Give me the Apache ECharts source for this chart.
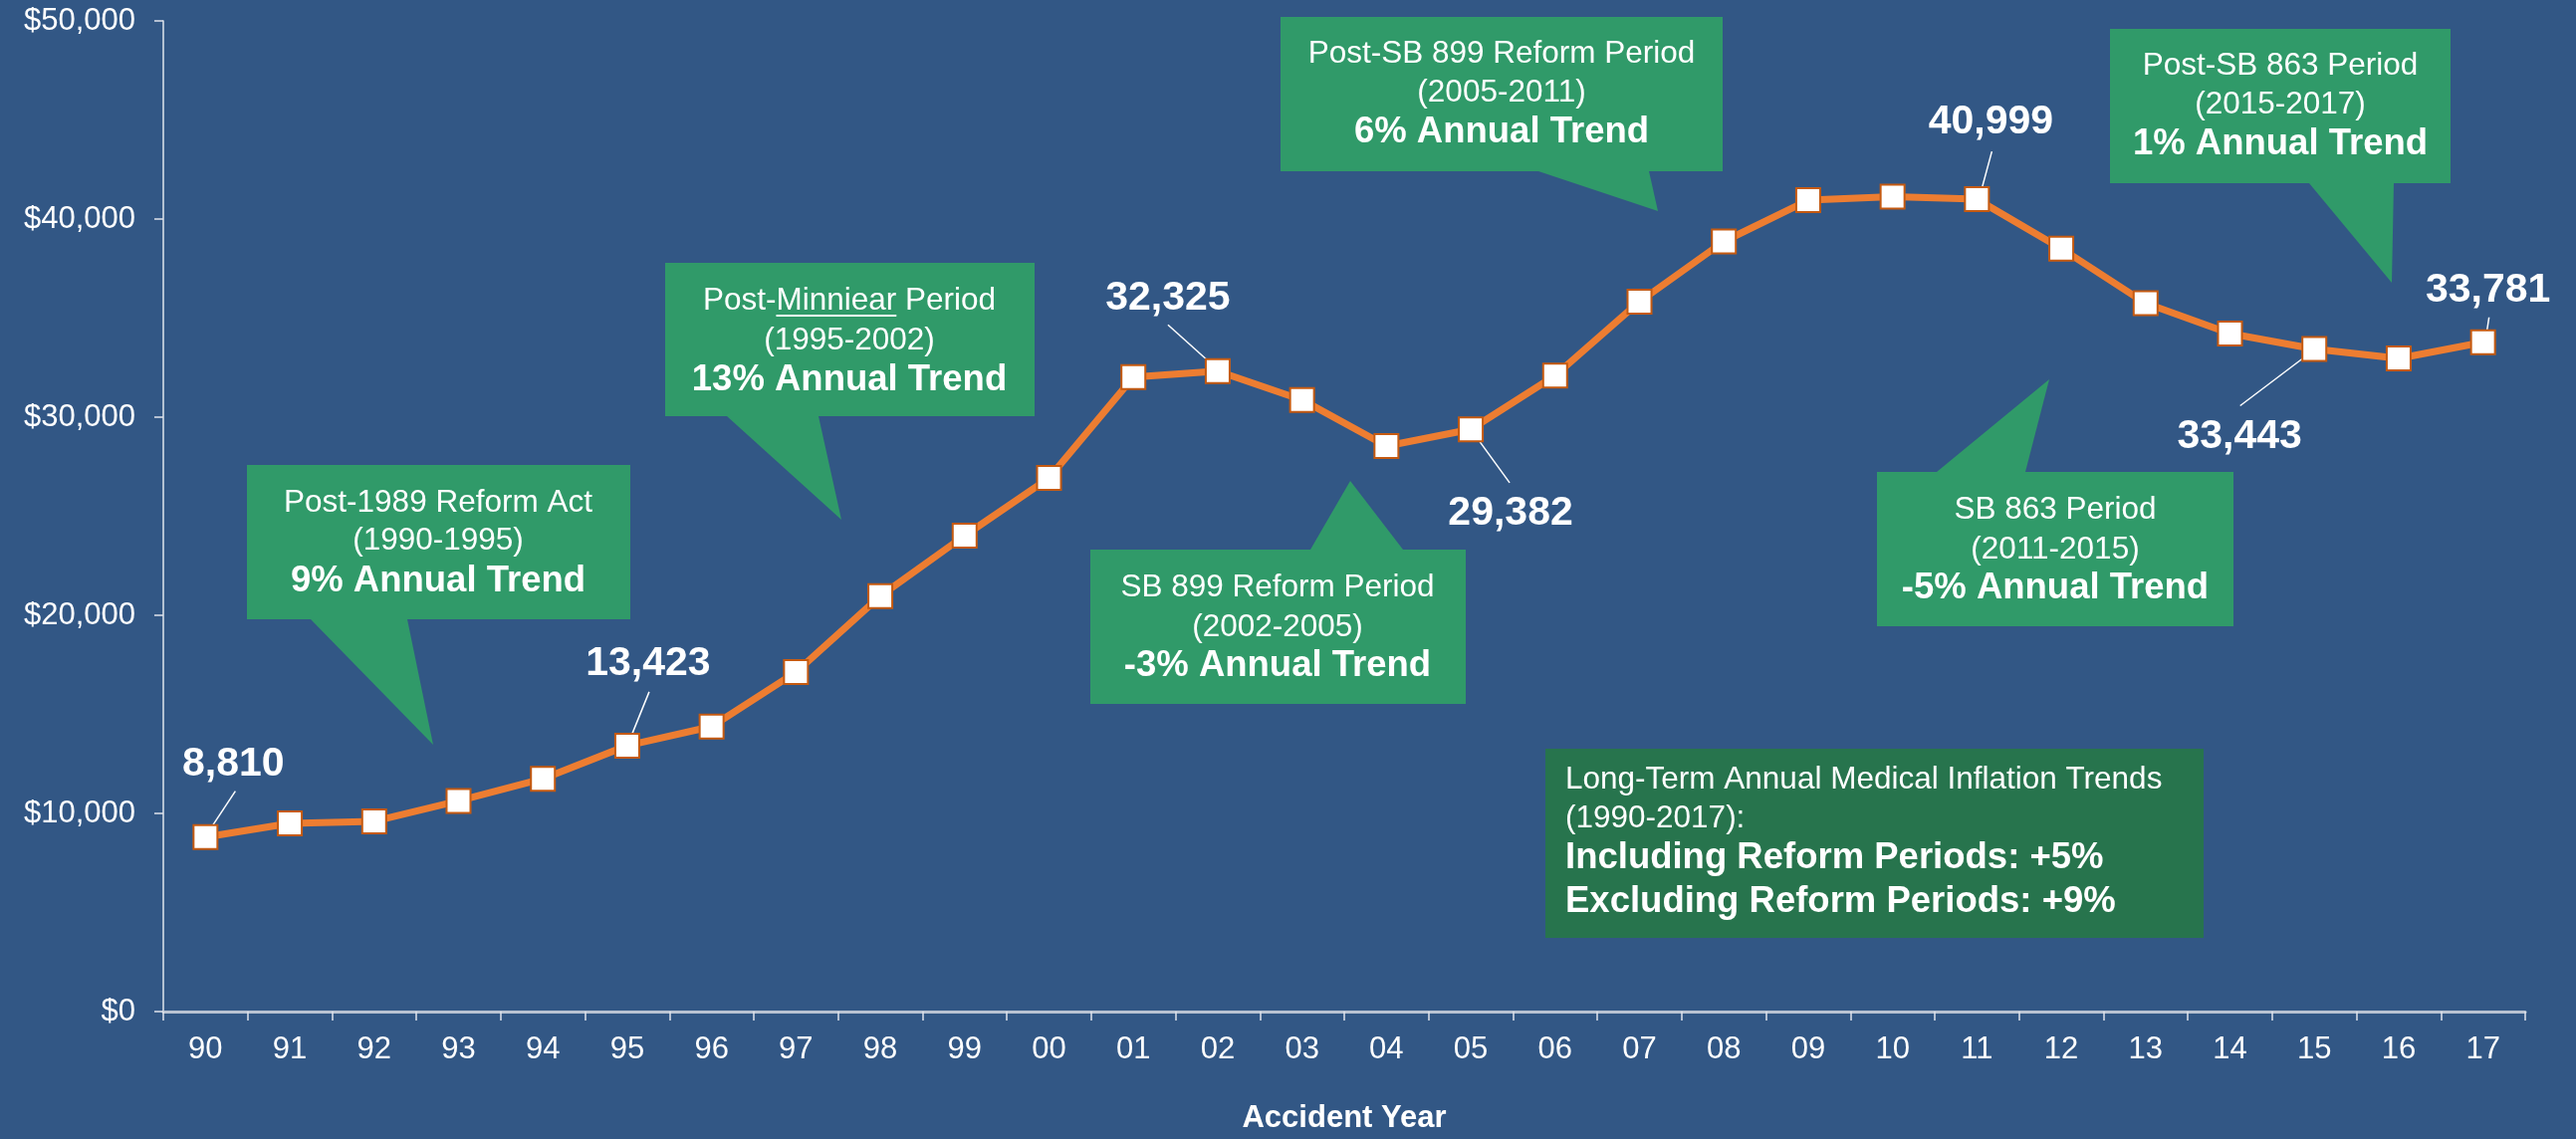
<!DOCTYPE html>
<html>
<head>
<meta charset="utf-8">
<title>Medical cost per claim by accident year</title>
<script src="https://cdn.jsdelivr.net/npm/echarts@6/dist/echarts.min.js"></script>
<style>
  html, body { margin: 0; padding: 0; background: #325785; }
  #main { width: 2587px; height: 1144px; }
</style>
</head>
<body>
<div id="main"></div>
<script>
// accident years on the x axis
var years = ['90', '91', '92', '93', '94', '95', '96', '97', '98', '99',
             '00', '01', '02', '03', '04', '05', '06', '07', '08', '09',
             '10', '11', '12', '13', '14', '15', '16', '17'];

// average medical paid per claim ($)
var severity = [8810, 9500, 9600, 10630, 11750, 13423, 14385, 17130, 20970, 24020,
                26930, 32020, 32325, 30870, 28540, 29382, 32100, 35830, 38870, 40950,
                41130, 40999, 38510, 35750, 34220, 33443, 32965, 33781];

// years that carry a value label
var labeledYears = ['90', '95', '02', '05', '11', '15', '17'];

// y axis range and step
var yMin = 0, yMax = 50000, yStep = 10000;

// callout texts: [plain line, plain line, bold line]
var calloutTexts = [
    ['Post-1989 Reform Act', '(1990-1995)', '9% Annual Trend'],
    ['Post-Minniear Period', '(1995-2002)', '13% Annual Trend'],
    ['SB 899 Reform Period', '(2002-2005)', '-3% Annual Trend'],
    ['Post-SB 899 Reform Period', '(2005-2011)', '6% Annual Trend'],
    ['SB 863 Period', '(2011-2015)', '-5% Annual Trend'],
    ['Post-SB 863 Period', '(2015-2017)', '1% Annual Trend']
];
var summaryPlain = ['Long-Term Annual Medical Inflation Trends', '(1990-2017):'];
var summaryBold = ['Including Reform Periods: +5%', 'Excluding Reform Periods: +9%'];

// ---- layout (pixels) ----
var FONT = "'Liberation Sans', Arial, sans-serif";
var GREEN = '#309a69';
var DARK_GREEN = '#27744d';
var PLAIN = '31.5px ' + FONT;
var BOLD = 'bold 36.5px ' + FONT;

// label centre offset from its point
var labelOffsets = {
    '90': [28, -73], '95': [21, -82], '02': [-50, -73], '05': [40, 84],
    '11': [14, -77], '15': [-75, 88], '17': [5, -52]
};
// leader line [start, end], offsets from the point
var leaderOffsets = {
    '90': [[7.5, -12], [30, -46]],
    '95': [[5, -12], [22, -54]],
    '02': [[-11, -11.5], [-50, -46.5]],
    '05': [[8.5, 11.6], [39, 53.6]],
    '11': [[5, -11], [15, -48]],
    '15': [[-11, 9], [-74.5, 57]],
    '17': [[4, -12], [6, -25]]
};

// callout boxes: rect [x1, y1, x2, y2], tail [base1, tip, base2], text centre x, line ys
var calloutBoxes = [
    { rect: [248, 467, 633, 622], tail: [[312, 622], [435, 748], [409, 622]], cx: 440, ys: [505, 543, 584] },
    { rect: [668, 264, 1039, 418], tail: [[730, 418], [845, 522], [822, 418]], cx: 853, ys: [302, 342, 382] },
    { rect: [1095, 552, 1472, 707], tail: [[1316, 552], [1356, 483], [1409, 552]], cx: 1283, ys: [590, 630, 669] },
    { rect: [1286, 17, 1730, 172], tail: [[1545, 172], [1665, 212], [1656, 172]], cx: 1508, ys: [54, 93, 133] },
    { rect: [1885, 474, 2243, 629], tail: [[1945, 474], [2058, 381], [2034, 474]], cx: 2064, ys: [512, 552, 591] },
    { rect: [2119, 29, 2461, 184], tail: [[2319, 184], [2402, 284], [2404, 184]], cx: 2290, ys: [66, 105, 145] }
];
var summaryBox = { rect: [1552, 752, 2213, 942], x: 1572, ys: [783, 822, 862, 906] };

function fmt(v) {
    return v.toLocaleString('en-US');
}

function measure(text, font) {
    var ctx = document.createElement('canvas').getContext('2d');
    ctx.font = font;
    return ctx.measureText(text).width;
}

// build graphic elements for the callouts
var graphics = [];
calloutBoxes.forEach(function (b, i) {
    graphics.push({
        type: 'rect', z: 1,
        shape: { x: b.rect[0], y: b.rect[1], width: b.rect[2] - b.rect[0], height: b.rect[3] - b.rect[1] },
        style: { fill: GREEN }
    });
    graphics.push({
        type: 'polygon', z: 1,
        shape: { points: b.tail },
        style: { fill: GREEN }
    });
    calloutTexts[i].forEach(function (t, j) {
        graphics.push({
            type: 'text', z: 2,
            style: {
                text: t, x: b.cx, y: b.ys[j],
                fill: '#fff',
                font: j === 2 ? BOLD : PLAIN,
                textAlign: 'center', textVerticalAlign: 'middle'
            }
        });
    });
});

// underline "Minniear"
(function () {
    var b = calloutBoxes[1];
    var full = measure(calloutTexts[1][0], PLAIN);
    var pre = measure('Post-', PLAIN);
    var word = measure('Minniear', PLAIN);
    var x0 = b.cx - full / 2 + pre;
    graphics.push({
        type: 'line', z: 2,
        shape: { x1: x0, y1: b.ys[0] + 15, x2: x0 + word, y2: b.ys[0] + 15 },
        style: { stroke: '#fff', lineWidth: 2 }
    });
})();

// summary box
graphics.push({
    type: 'rect', z: 1,
    shape: {
        x: summaryBox.rect[0], y: summaryBox.rect[1],
        width: summaryBox.rect[2] - summaryBox.rect[0], height: summaryBox.rect[3] - summaryBox.rect[1]
    },
    style: { fill: DARK_GREEN }
});
summaryPlain.concat(summaryBold).forEach(function (t, j) {
    graphics.push({
        type: 'text', z: 2,
        style: {
            text: t, x: summaryBox.x, y: summaryBox.ys[j],
            fill: '#fff',
            font: j >= summaryPlain.length ? BOLD : PLAIN,
            textAlign: 'left', textVerticalAlign: 'middle'
        }
    });
});

var seriesData = severity.map(function (v, i) {
    if (labeledYears.indexOf(years[i]) < 0) return v;
    return { value: v, label: { show: true } };
});

var myChart = echarts.init(document.getElementById('main'));

var option = {
    animation: false,
    backgroundColor: '#325785',
    textStyle: { fontFamily: FONT },
    grid: { left: 164, right: 51, top: 21, bottom: 123, containLabel: false },
    xAxis: {
        type: 'category',
        data: years,
        boundaryGap: true,
        axisLine: { lineStyle: { color: '#b9c3d2', width: 3 } },
        axisTick: { show: true, length: 9, lineStyle: { color: '#dfe4ec', width: 1.5 } },
        axisLabel: { color: '#fff', fontSize: 31, margin: 23, fontFamily: FONT },
        name: 'Accident Year',
        nameLocation: 'middle',
        nameGap: 92,
        nameTextStyle: { color: '#fff', fontSize: 31, fontWeight: 'bold', fontFamily: FONT }
    },
    yAxis: {
        type: 'value',
        min: yMin,
        max: yMax,
        interval: yStep,
        axisLine: { show: true, lineStyle: { color: '#dfe4ec', width: 1.5 } },
        axisTick: { show: true, length: 9, lineStyle: { color: '#dfe4ec', width: 1.5 } },
        splitLine: { show: false },
        axisLabel: {
            color: '#fff', fontSize: 31, margin: 28, fontFamily: FONT,
            formatter: function (v) { return '$' + fmt(v); }
        }
    },
    series: [{
        type: 'line',
        data: seriesData,
        z: 3,
        color: '#ed7d31',
        showAllSymbol: true,
        symbol: 'rect',
        symbolSize: 24,
        lineStyle: { color: '#ed7d31', width: 7 },
        itemStyle: { color: '#ffffff', borderColor: '#c55a11', borderWidth: 2 },
        label: {
            show: false,
            position: 'inside',
            color: '#fff',
            fontSize: 41,
            fontWeight: 'bold',
            fontFamily: FONT,
            formatter: function (p) { return fmt(p.value); }
        },
        labelLayout: function (p) {
            var off = labelOffsets[years[p.dataIndex]];
            if (!off) return {};
            return { dx: off[0], dy: off[1] };
        },
        emphasis: { disabled: true }
    }],
    graphic: graphics
};

myChart.setOption(option);

// leader lines from each labelled point, placed through the chart's own scales
var leaders = [];
labeledYears.forEach(function (y) {
    var i = years.indexOf(y);
    var pt = myChart.convertToPixel({ xAxisIndex: 0, yAxisIndex: 0 }, [i, severity[i]]);
    var off = leaderOffsets[y];
    leaders.push({
        type: 'line', z: 2,
        shape: {
            x1: pt[0] + off[0][0], y1: pt[1] + off[0][1],
            x2: pt[0] + off[1][0], y2: pt[1] + off[1][1]
        },
        style: { stroke: '#ffffff', lineWidth: 1.5 }
    });
});
myChart.setOption({ graphic: graphics.concat(leaders) });
</script>
</body>
</html>
